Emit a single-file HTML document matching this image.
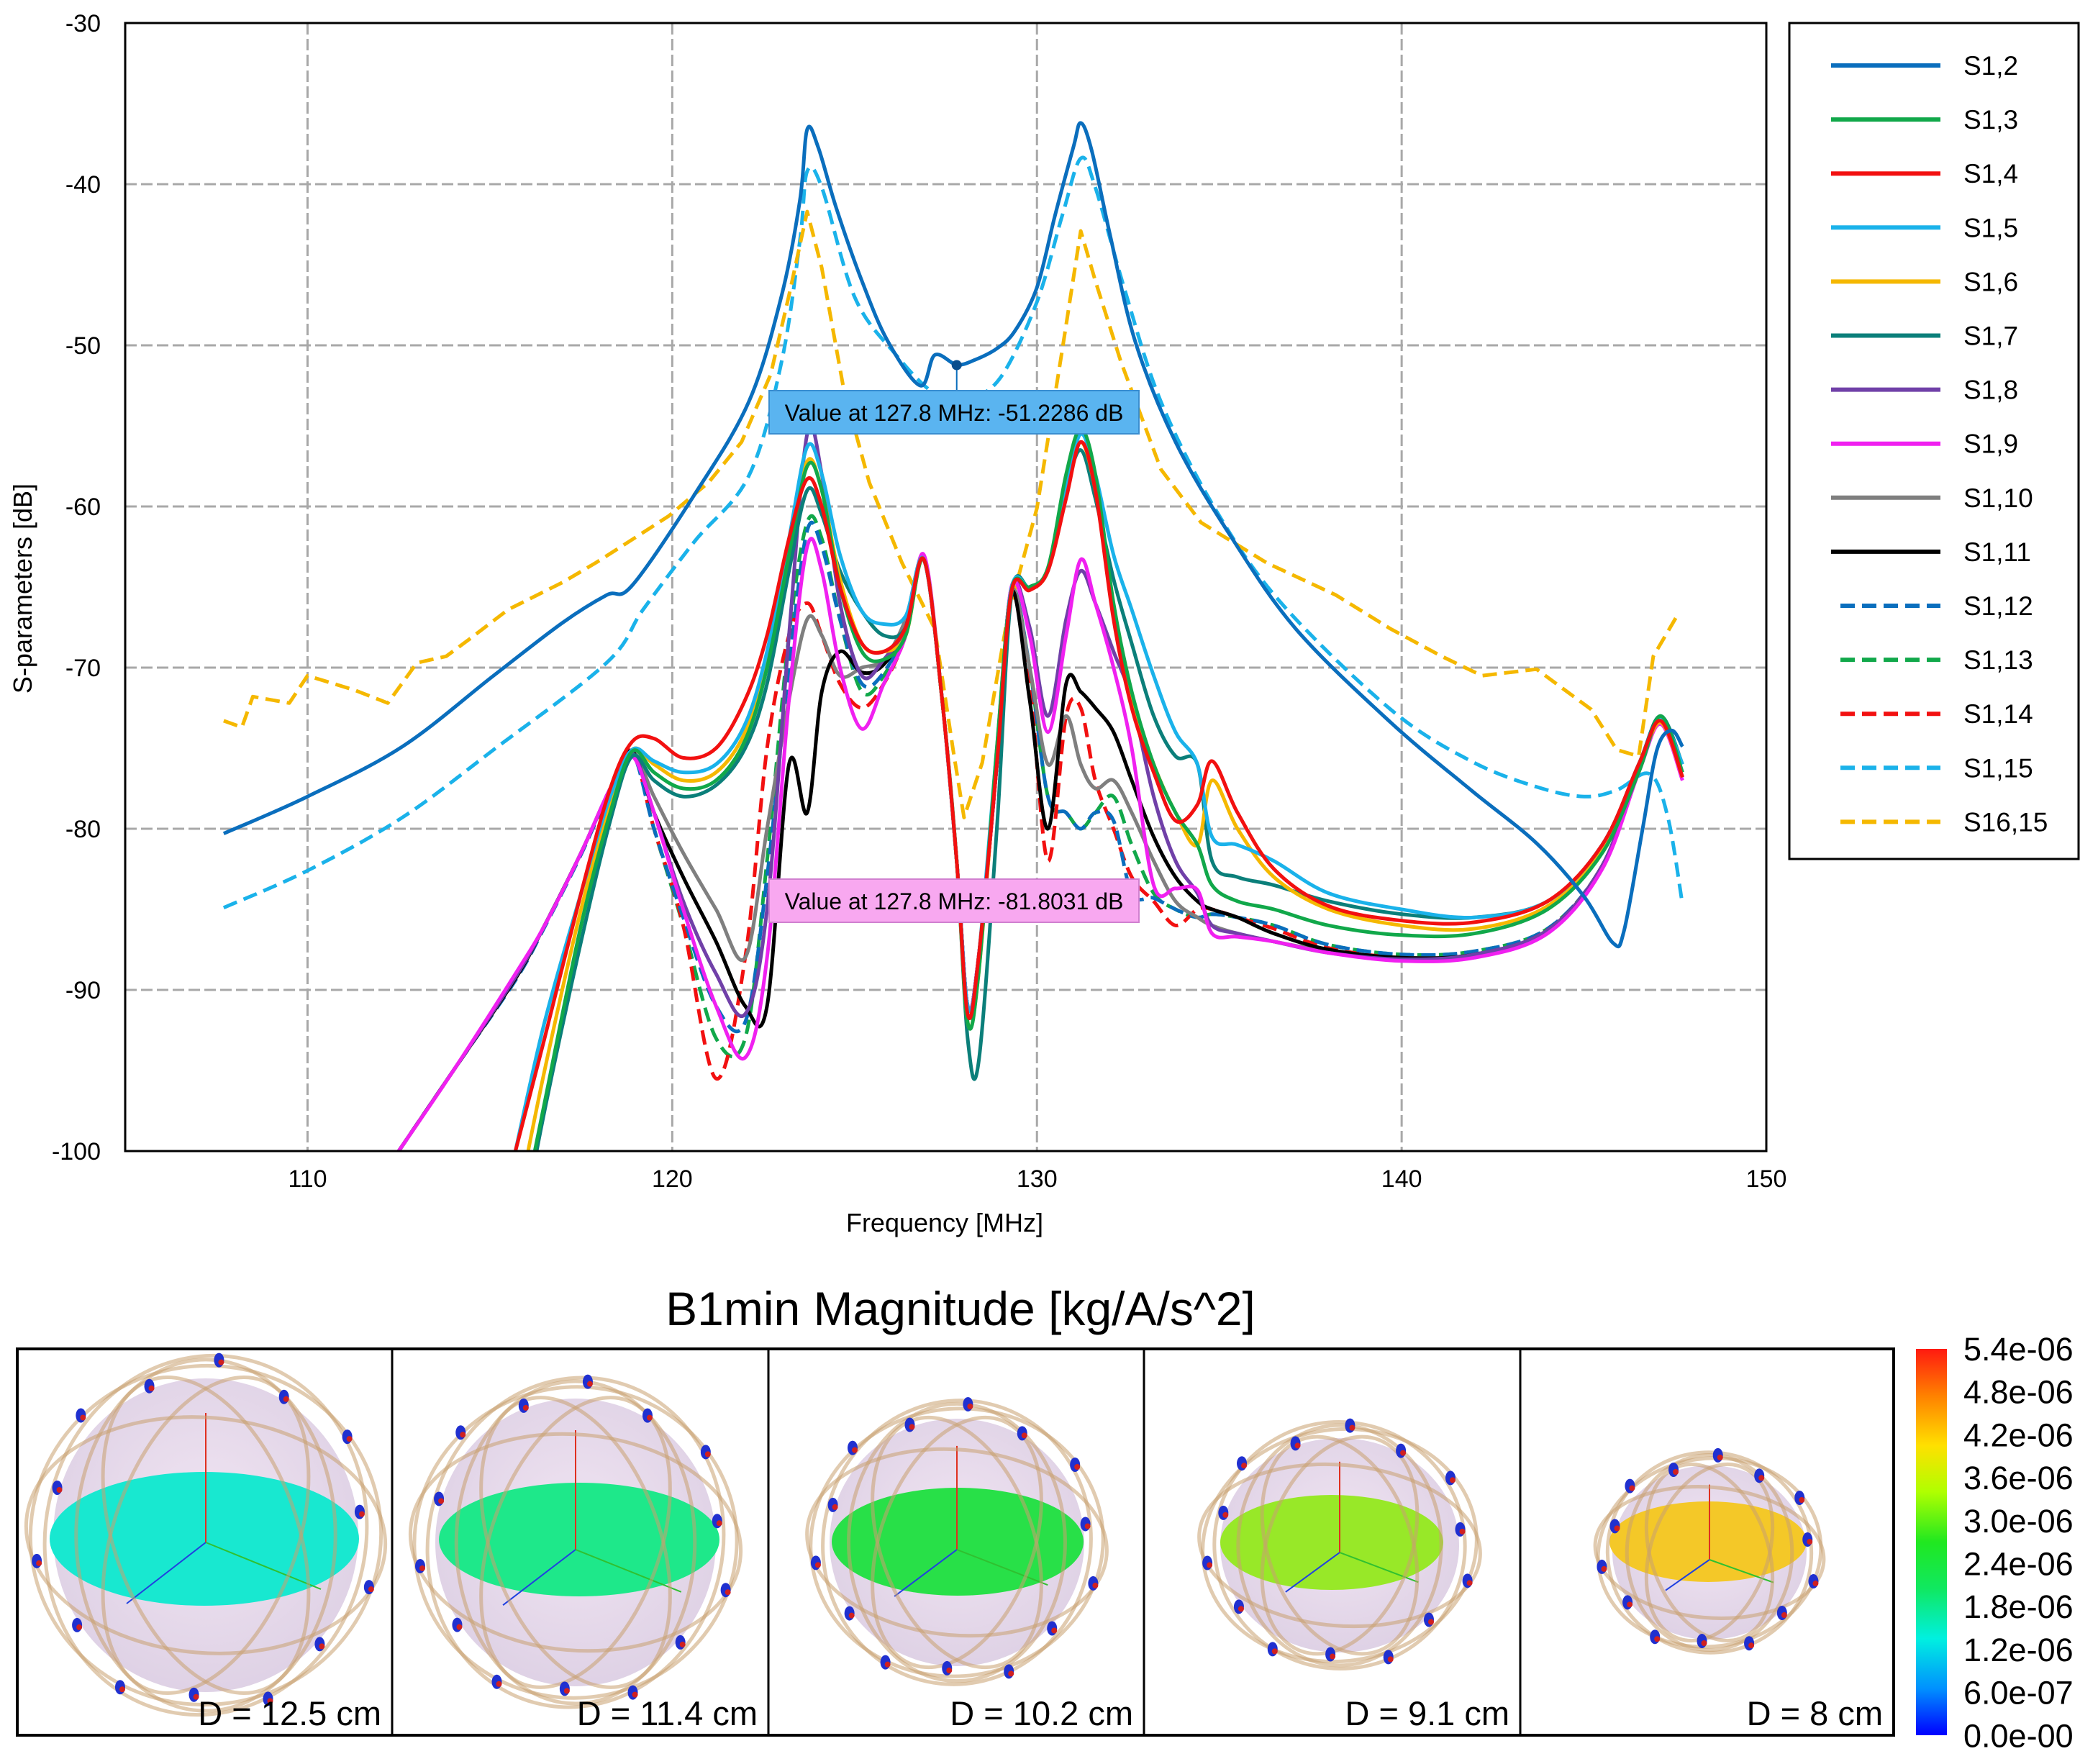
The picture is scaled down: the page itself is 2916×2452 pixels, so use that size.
<!DOCTYPE html>
<html><head><meta charset="utf-8"><style>
html,body{margin:0;padding:0;background:#fff;}
svg{display:block;font-family:"Liberation Sans",sans-serif;}
</style></head><body>
<svg id="root" xmlns="http://www.w3.org/2000/svg" width="2916" height="2452" viewBox="0 0 2916 2452">
<defs>
<clipPath id="plotclip"><rect x="174" y="32" width="2281" height="1568"/></clipPath>
<linearGradient id="cbar" x1="0" y1="0" x2="0" y2="1">
<stop offset="0" stop-color="#ff1a10"/><stop offset="0.12" stop-color="#ff8000"/><stop offset="0.25" stop-color="#ffe000"/><stop offset="0.37" stop-color="#b0ff00"/><stop offset="0.5" stop-color="#20e820"/><stop offset="0.62" stop-color="#10e860"/><stop offset="0.75" stop-color="#00f0e0"/><stop offset="0.88" stop-color="#0090ff"/><stop offset="1" stop-color="#0000ff"/>
</linearGradient>
<radialGradient id="sph" cx="0.5" cy="0.45" r="0.6"><stop offset="0" stop-color="#f0e4f2"/><stop offset="1" stop-color="#ddd0e4"/></radialGradient>
</defs>
<g id="grid"></g>
<g id="series" clip-path="url(#plotclip)"></g>
<rect x="174" y="32" width="2281" height="1568" fill="none" stroke="#000" stroke-width="3"/>
<g id="ticks"></g>
<text x="1313" y="1712" font-size="36" text-anchor="middle">Frequency [MHz]</text>
<text x="0" y="0" font-size="36" text-anchor="middle" transform="translate(44,818) rotate(-90)">S-parameters [dB]</text>
<g id="tips"></g>
<rect x="2487" y="32" width="402" height="1162" fill="#fff" stroke="#000" stroke-width="3"/>
<g id="legend"></g>
<text x="1335" y="1842" font-size="66" text-anchor="middle">B1min Magnitude [kg/A/s^2]</text>
<g id="panels"></g>
<rect x="24" y="1875" width="2608" height="537" fill="none" stroke="#000" stroke-width="4"/>
<rect x="2663" y="1875" width="43" height="537" fill="url(#cbar)"/>
<g id="cbl"></g>
</svg>
<script>
const NS='http://www.w3.org/2000/svg';
const xTicks=[110,120,130,140,150];
const yTicks=[-30,-40,-50,-60,-70,-80,-90,-100];
const names=['S1,2','S1,3','S1,4','S1,5','S1,6','S1,7','S1,8','S1,9','S1,10','S1,11','S1,12','S1,13','S1,14','S1,15','S16,15'];
const colors=['#0a6ebd','#11a84a','#f21010','#1ab2ea','#f5b800','#0b7f7a','#7040a8','#f020f0','#7f7f7f','#000000','#0a6ebd','#11a84a','#f21010','#1ab2ea','#f5b800'];
const dashed=[0,0,0,0,0,0,0,0,0,0,1,1,1,1,1];
const gridF=[112.5,114,115.7,116.5,117.5,118.3,118.9,119.5,120.3,121.2,122,122.6,123.2,123.7,124.1,124.6,125.2,125.8,126.4,126.9,127.4,127.8,128.1,128.4,128.9,129.3,129.8,130.3,130.8,131.2,131.6,132.1,132.6,133.2,133.8,134.4,134.8,135.5,136.5,138,140,142,144,145.5,146.5,147.1,147.7];
const s12F=[107.7,110,112.6,115.1,117,118.2,118.9,120.6,122.1,123,123.5,123.7,124,124.5,125.2,125.9,126.8,127.2,127.8,128.3,128.9,129.4,130,130.5,131,131.2,131.5,132,132.7,133.8,135.3,137.1,139.7,141.9,143.7,145,145.8,146.1,146.6,147,147.4,147.7];
const s12V=[-80.3,-78,-74.9,-70.5,-67.2,-65.5,-64.9,-59.3,-53.5,-46.9,-41,-36.6,-37.7,-41.5,-46,-49.7,-52.5,-50.6,-51.2,-50.9,-50.2,-49.1,-46.4,-41.9,-37.7,-36.2,-37.9,-43.1,-49.8,-56,-61.8,-67.6,-73.4,-77.6,-80.9,-84.2,-87.1,-86.3,-80.1,-75.1,-73.9,-74.9];
const s115F=[107.7,110,112.6,115.1,118.2,119.2,120.6,122.1,123,123.5,123.7,124.1,125,126.1,127.2,128.1,129,130,130.7,131.2,131.6,132.4,133.4,134.9,136.7,139.7,141.9,143.7,145,145.9,146.8,147.3,147.7];
const s115V=[-84.9,-82.6,-79.3,-75.1,-69.7,-66.4,-62.2,-58.1,-51,-43.5,-39.2,-40.2,-47,-50.5,-53,-53.3,-52,-47.3,-41.9,-38.4,-40.2,-46.5,-53.5,-60.2,-66,-72.6,-75.8,-77.4,-78,-77.6,-76.6,-79.3,-84.7];
const s1615F=[107.7,108.2,108.5,109.5,110,111.3,112.2,113,113.8,114.4,115.5,117,117.9,118.8,119.9,121,121.9,122.7,123.2,123.7,124.1,124.7,125.4,126.3,127.2,127.7,128,128.5,129.2,130,130.7,131.2,131.6,132.3,133.4,134.5,136.3,138.2,139.7,141.1,142.2,143.7,145.2,145.9,146.5,146.9,147.6];
const s1615V=[-73.3,-73.7,-71.8,-72.2,-70.5,-71.4,-72.2,-69.7,-69.3,-68.3,-66.4,-64.7,-63.5,-62.2,-60.6,-58.5,-56,-51.8,-46.9,-41.7,-45.2,-52.7,-58.5,-63.5,-67.6,-75.1,-79.3,-75.9,-66.8,-60.1,-50.2,-42.9,-46,-51,-57.7,-61,-63.5,-65.5,-67.6,-69.3,-70.5,-70.1,-72.6,-75.1,-75.5,-69.3,-66.6];
const N=null;
const s13V=[N,N,-106,-97,-86,-79,-75.2,-76.5,-77.5,-77,-74.5,-70,-63,-57.5,-59,-65,-69,-69.5,-68,-63.3,-72,-82,-92,-89,-75,-65.2,-65,-63.8,-58,-55.2,-58,-66,-71.5,-76,-79,-81,-83.5,-84.5,-85,-86,-86.6,-86.5,-85,-81.5,-76.5,-73,-76.5];
const s14V=[N,N,-100,-93,-84,-77.5,-74.6,-74.4,-75.6,-75,-72,-68,-62,-58.3,-60,-65,-68.5,-69,-67.5,-63.3,-72,-82,-91.5,-88,-76,-65.3,-65.2,-64,-59.5,-56,-59,-67,-72.5,-76.5,-79.5,-78.5,-75.8,-79,-82.5,-84.8,-85.7,-85.8,-84.5,-81,-76,-73.3,-76.8];
const s15V=[N,N,-100,-92,-84,-78,-75.1,-75.8,-76.5,-76,-73.5,-69,-62,-56.3,-58,-63,-66.5,-67.3,-66.8,-63.3,-72,-82,-91,-88,-75,-65.1,-65,-64,-59,-55.5,-58,-63,-66.4,-70.5,-74,-76,-80.5,-81,-82,-84,-85,-85.5,-84.5,-81,-76,-73.2,-76];
const s16V=[N,N,-104,-95,-85,-78.5,-75.1,-76,-77,-76.5,-74,-69.5,-62.5,-57.2,-59,-64.5,-68.5,-69,-68,-63.3,-72,-82,-92,-89,-75.5,-65.3,-65.1,-64,-59,-56,-59,-66.5,-72,-76,-79,-81,-77,-80,-83,-85,-86,-86.2,-84.8,-81.3,-76.2,-73.4,-76.8];
const s17V=[N,N,-107,-97.5,-87,-79.5,-75.5,-77,-78,-77.3,-75,-71,-64,-59,-60.5,-64,-66.5,-68,-67.5,-63.3,-72,-82,-93,-94.5,-80,-65.5,-65,-64,-59,-56.5,-59.5,-64.5,-68.5,-73,-75.5,-76,-82,-83,-83.5,-84.5,-85.3,-85.5,-84.5,-81,-76,-73,-76];
const s18V=[-100,-95,-89.2,-86,-81.5,-77.5,-75.3,-79,-84.5,-89,-91.5,-85,-68,-55.5,-58,-66,-70.5,-69.5,-67.5,-63.2,-72,-82,-91,-88,-76,-65,-67.5,-73,-67,-64,-66,-69,-72,-78,-82,-84,-86,-86.5,-87,-87.7,-88.1,-87.8,-86.3,-82.3,-76.3,-73.5,-76.8];
const s19V=[-100,-95,-89,-86,-81.5,-77.5,-75.5,-79,-85,-91,-94.2,-88,-72,-62.5,-64,-70,-73.8,-71,-68,-63,-72,-82,-91,-88,-76,-65,-68,-74,-68,-63.3,-66,-70,-75,-83.5,-83.7,-83.8,-86.5,-86.7,-87,-87.7,-88.2,-88,-86.5,-82.5,-76.5,-73.5,-77];
const s110V=[-100,-95,-89.3,-86,-81.5,-77.5,-75.2,-78,-81.5,-85,-88,-80,-72,-67,-68,-70.5,-70,-69.5,-67,-63.3,-72,-82,-91,-88,-76,-65.3,-70,-76,-73,-76,-77.5,-77,-79,-82,-84.5,-85.5,-86,-86.5,-87,-87.6,-88,-87.8,-86.3,-82.3,-76.3,-73.4,-76.8];
const s111V=[-100,-95,-89.3,-86,-81.5,-77.5,-75.2,-79,-83,-87,-91,-91,-76,-79,-71.5,-69,-70.3,-69.8,-67.5,-63.3,-72,-82,-91,-88,-76,-65.3,-72,-80,-71,-71.5,-72.5,-74,-77,-80.5,-83,-84.5,-85,-85.5,-86.5,-87.5,-88,-87.8,-86.3,-82.3,-76.3,-73.4,-76.8];
const s112V=[-100,-95,-89.4,-86.1,-81.6,-77.6,-75.3,-80,-85.5,-91,-92,-83,-70,-61.5,-62.5,-67,-71,-70.3,-67.5,-63.3,-72,-82,-91,-88,-76,-65.3,-70,-78,-79,-80,-79,-79.5,-84,-84.3,-85,-85.5,-85.3,-85.5,-86,-87.2,-87.8,-87.6,-86.2,-82.3,-76.3,-73.4,-76.8];
const s113V=[-100,-95,-89.3,-86,-81.5,-77.5,-75.2,-80,-86,-93,-93,-82,-68,-61,-62,-67,-71.5,-70.5,-67.5,-63.3,-72,-82,-91,-88,-76,-65.3,-70,-78,-79,-80,-79,-78,-81,-84,-85,-85.5,-85.3,-85.5,-86,-87.2,-87.8,-87.6,-86.2,-82.3,-76.3,-73.4,-76.8];
const s114V=[-100,-95,-89.3,-86,-81.5,-77.5,-75.2,-80,-86,-95.5,-88,-75,-68,-66,-68,-71,-72.5,-71,-68,-63.3,-72,-82,-91,-88,-76,-65.3,-71,-82,-73,-72.5,-77,-80,-83,-84.5,-86,-85,-85,-85.5,-86.2,-87.4,-88,-87.8,-86.3,-82.3,-76.3,-73.4,-76.8];
const markerF=127.8, markerV=-51.2286;
const cbLabels=['5.4e-06','4.8e-06','4.2e-06','3.6e-06','3.0e-06','2.4e-06','1.8e-06','1.2e-06','6.0e-07','0.0e-00'];
const panelLabels=['D = 12.5 cm','D = 11.4 cm','D = 10.2 cm','D = 9.1 cm','D = 8 cm'];

const X=f=>174+(f-105)*50.69;
const Y=d=>32+(-30-d)*22.4;
function mk(tag,at,parent){const e=document.createElementNS(NS,tag);for(const k in at)e.setAttribute(k,at[k]);parent.appendChild(e);return e;}
function smoothPath(P){
 if(P.length<2)return '';
 let d='M'+P[0][0].toFixed(1)+','+P[0][1].toFixed(1);
 for(let i=0;i<P.length-1;i++){
  const p0=P[i>0?i-1:i],p1=P[i],p2=P[i+1],p3=P[i+2<P.length?i+2:i+1];
  const c1=[p1[0]+(p2[0]-p0[0])/6,p1[1]+(p2[1]-p0[1])/6];
  const c2=[p2[0]-(p3[0]-p1[0])/6,p2[1]-(p3[1]-p1[1])/6];
  d+=' C'+c1[0].toFixed(1)+','+c1[1].toFixed(1)+' '+c2[0].toFixed(1)+','+c2[1].toFixed(1)+' '+p2[0].toFixed(1)+','+p2[1].toFixed(1);
 }
 return d;
}
const grid=document.getElementById('grid'),ticks=document.getElementById('ticks');
xTicks.forEach(t=>{
 if(t<150){const l=mk('line',{x1:X(t),x2:X(t),y1:32,y2:1600,stroke:'#a8a8a8','stroke-width':3,'stroke-dasharray':'16 6'},grid);
 
 }
 const tx=mk('text',{x:X(t),y:1650,'font-size':34,'text-anchor':'middle'},ticks);tx.textContent=t;
 
 
});
yTicks.forEach(t=>{
 if(t>-100&&t<-30){const l=mk('line',{x1:174,x2:2455,y1:Y(t),y2:Y(t),stroke:'#a8a8a8','stroke-width':3,'stroke-dasharray':'16 6'},grid);
 
 }
 const tx=mk('text',{x:140,y:Y(t)+12,'font-size':34,'text-anchor':'end'},ticks);tx.textContent=t;
 
 
});
const allF=[s12F,gridF,gridF,gridF,gridF,gridF,gridF,gridF,gridF,gridF,gridF,gridF,gridF,s115F,s1615F];
const allV=[s12V,s13V,s14V,s15V,s16V,s17V,s18V,s19V,s110V,s111V,s112V,s113V,s114V,s115V,s1615V];
const order=[11,12,10,13,14,8,9,6,7,5,4,3,1,2,0];
const ser=document.getElementById('series');
order.forEach(i=>{
 const F=allF[i],V=allV[i];let pts=[];
 for(let k=0;k<F.length;k++){if(V[k]===null)continue;pts.push([X(F[k]),Y(V[k])]);}
 const d=(i===14)?('M'+pts.map(p=>p[0].toFixed(1)+','+p[1].toFixed(1)).join(' L')):smoothPath(pts);
 const p=mk('path',{d:d,fill:'none',stroke:colors[i],'stroke-width':5,'stroke-linejoin':'round'},ser);
 if(dashed[i])p.setAttribute('stroke-dasharray','20 10');
 
 
});
const tips=document.getElementById('tips');
const ml=mk('line',{x1:X(markerF),x2:X(markerF),y1:Y(markerV),y2:543,stroke:'#0a6ebd','stroke-width':2},tips);


const md=mk('circle',{cx:X(markerF),cy:Y(markerV),r:7,fill:'#0a4e8d'},tips);


[[543,'#5ab4f0','#3a8ed0','Value at 127.8 MHz: -51.2286 dB','tooltip-s12'],[1222,'#f8a8f0','#d080d0','Value at 127.8 MHz: -81.8031 dB','tooltip-s19']].forEach(t=>{
 const g=mk('g',{},tips);
 
 
 mk('rect',{x:1069,y:t[0],width:514,height:60,fill:t[1],stroke:t[2],'stroke-width':2},g);
 const tx=mk('text',{x:1326,y:t[0]+42,'font-size':32,'text-anchor':'middle','font-family':'"Liberation Sans Narrow","Liberation Sans",sans-serif'},g);tx.textContent=t[3];
});
const leg=document.getElementById('legend');
names.forEach((n,i)=>{
 const y=91+i*75.1;
 const g=mk('g',{},leg);
 
 
 const l=mk('line',{x1:dashed[i]?2558:2545,x2:2697,y1:y,y2:y,stroke:colors[i],'stroke-width':6},g);
 if(dashed[i])l.setAttribute('stroke-dasharray','20 10');
 const tx=mk('text',{x:2729,y:y+13,'font-size':37},g);tx.textContent=n;
});
const panels=document.getElementById('panels');
const P=[[286,2134,212,218,284,2139,215,93,'#18e8d0'],[800,2144,195,200,805,2140,195,79,'#1ee88a'],[1330,2144,177,172,1331,2143,175,75,'#28e048'],[1862,2148,166,149,1851,2144,155,66,'#98e828'],[2376,2158,135,121,2374,2143,137,56,'#f4c828']];
const edges=[24,545,1068,1590,2113,2632];
P.forEach((p,i)=>{
 const g=mk('g',{},panels);
 
 
 if(i>0)mk('line',{x1:edges[i],x2:edges[i],y1:1875,y2:2412,stroke:'#000','stroke-width':3},g);
 mk('ellipse',{cx:p[0],cy:p[1],rx:p[2],ry:p[3],fill:'url(#sph)'},g);
 mk('ellipse',{cx:p[4],cy:p[5],rx:p[6],ry:p[7],fill:p[8]},g);
 const s=p[3]/218;
 mk('line',{x1:p[0],x2:p[0],y1:p[1]-170*s,y2:p[1]+10,stroke:'#e03020','stroke-width':2},g);
 mk('line',{x1:p[0],x2:p[0]-110*s,y1:p[1]+10,y2:p[1]+95*s,stroke:'#2040e0','stroke-width':2},g);
 mk('line',{x1:p[0],x2:p[0]+160*s,y1:p[1]+10,y2:p[1]+75*s,stroke:'#30c030','stroke-width':2},g);
 [[1.15,1.08,-8],[1.05,1.15,12],[0.85,1.12,0],[1.18,0.75,5],[0.6,1.05,-20],[0.6,1.05,20]].forEach(e=>{
  mk('ellipse',{cx:p[0],cy:p[1],rx:p[2]*e[0],ry:p[3]*e[1],transform:'rotate('+e[2]+' '+p[0]+' '+p[1]+')',fill:'none',stroke:'#c8a070','stroke-opacity':0.55,'stroke-width':5},g);
 });
 for(let k=0;k<14;k++){
  const a=k*0.449+0.3, rr=(k%2?1.02:1.12);
  const cx=p[0]+Math.cos(a)*p[2]*rr, cy=p[1]+Math.sin(a)*p[3]*rr;
  mk('ellipse',{cx:cx,cy:cy,rx:7,ry:10,fill:'#2030d0'},g);
  mk('circle',{cx:cx+3,cy:cy+3,r:4,fill:'#d02020'},g);
 }
 const tx=mk('text',{x:edges[i+1]-15,y:2398,'font-size':47,'text-anchor':'end'},g);tx.textContent=panelLabels[i];
});
const cbl=document.getElementById('cbl');
cbLabels.forEach((t,i)=>{
 const tx=mk('text',{x:2729,y:1891+i*59.7,'font-size':45},cbl);tx.textContent=t;
 
 
});
</script>
</body></html>
